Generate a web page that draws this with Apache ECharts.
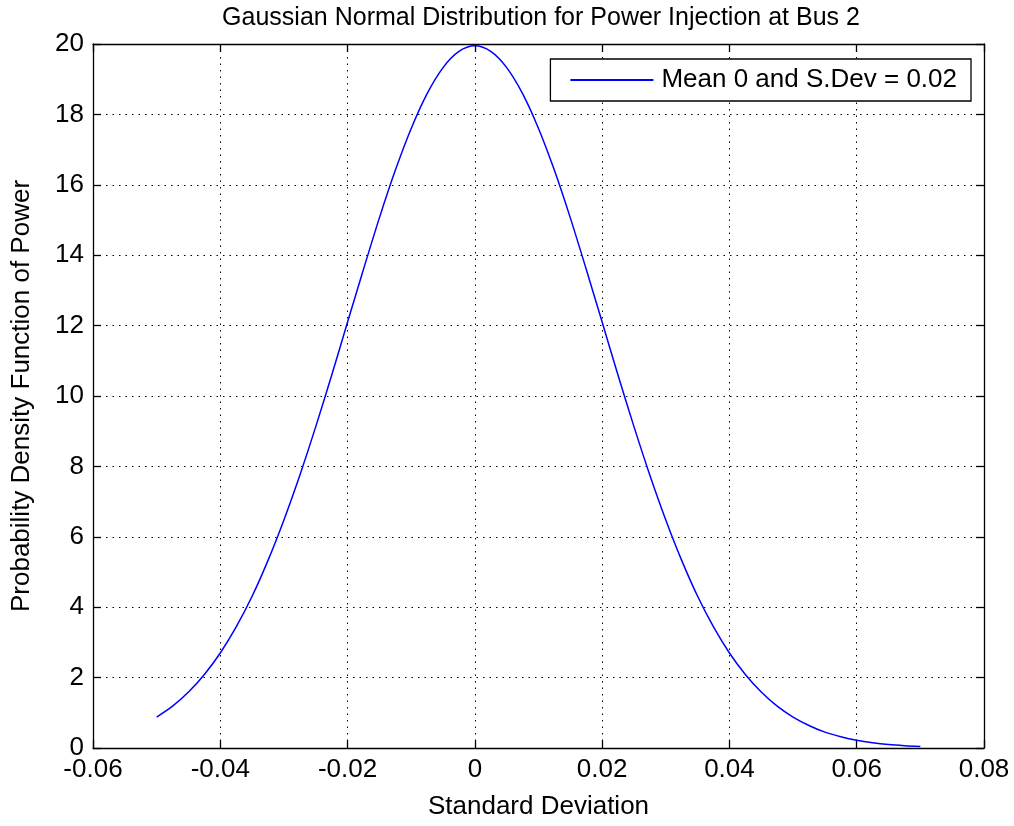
<!DOCTYPE html>
<html><head><meta charset="utf-8">
<script src="https://cdn.jsdelivr.net/npm/echarts@6/dist/echarts.min.js"></script>
<style>html,body{margin:0;padding:0;background:#fff}#c{width:1014px;height:826px}</style>
</head><body><div id="c"></div>
<script>
const xValues = [-0.05,-0.0475,-0.045,-0.0425,-0.04,-0.0375,-0.035,-0.0325,-0.03,-0.0275,-0.025,-0.0225,-0.02,-0.0175,-0.015,-0.0125,-0.01,-0.0075,-0.005,-0.0025,0,0.0025,0.005,0.0075,0.01,0.0125,0.015,0.0175,0.02,0.0225,0.025,0.0275,0.03,0.0325,0.035,0.0375,0.04,0.0425,0.045,0.0475,0.05,0.0525,0.055,0.0575,0.06,0.0625,0.065,0.0675,0.07];
const pdfValues = [0.88,1.19,1.59,2.09,2.70,3.44,4.31,5.33,6.48,7.75,9.13,10.59,12.10,13.60,15.06,16.41,17.60,18.59,19.33,19.79,19.95,19.79,19.33,18.59,17.60,16.41,15.06,13.60,12.10,10.59,9.13,7.75,6.48,5.33,4.31,3.44,2.70,2.09,1.59,1.19,0.88,0.64,0.45,0.32,0.22,0.15,0.10,0.067,0.044];
const seriesName = 'Mean 0 and S.Dev = 0.02';
const titleText = 'Gaussian Normal Distribution for Power Injection at Bus 2';
const xLabel = 'Standard Deviation';
const yLabel = 'Probability Density Function of Power';

const FONT = '"Liberation Sans",Arial,sans-serif';
const chart = echarts.init(document.getElementById('c'));
const dotted = {color:'#000', width:1, type:[1.5,5]};
const axisLine = {show:true, onZero:false, lineStyle:{color:'#000', width:1.3}};
const ticks = {show:true, inside:true, length:8, lineStyle:{color:'#000', width:1.3}};
chart.setOption({
  animation:false,
  backgroundColor:'#fff',
  title:{text:titleText, left:536, textAlign:'center', top:1, textStyle:{fontFamily:FONT, fontSize:25, fontWeight:'normal', color:'#000'}},
  grid:{left:93, right:30, top:44, bottom:78},
  legend:{show:true, right:43, top:59, orient:'vertical', backgroundColor:'#fff', borderColor:'#000', borderWidth:1.3, borderRadius:0,
    padding:[8,14,8,20], itemWidth:83, itemHeight:2, itemGap:6,
    textStyle:{fontFamily:FONT, fontSize:26, color:'#000', padding:[0,0,0,3]}, data:[{name:seriesName, icon:'rect'}]},
  xAxis:[{type:'value', min:-0.06, max:0.08, interval:0.02, position:'bottom',
    name:xLabel, nameLocation:'middle', nameGap:46, nameTextStyle:{fontFamily:FONT, fontSize:26, color:'#000'},
    axisLine:axisLine, axisTick:ticks, axisLabel:{fontFamily:FONT, fontSize:26, color:'#000', margin:9},
    splitLine:{show:true, lineStyle:dotted}},
    {type:'value', min:-0.06, max:0.08, interval:0.02, position:'top', axisLine:axisLine, axisTick:ticks, axisLabel:{show:false}, splitLine:{show:false}}],
  yAxis:[{type:'value', min:0, max:20, interval:2, position:'left',
    name:yLabel, nameLocation:'middle', nameGap:58, nameTextStyle:{fontFamily:FONT, fontSize:26, color:'#000'},
    axisLine:axisLine, axisTick:ticks, axisLabel:{fontFamily:FONT, fontSize:26, color:'#000', margin:9},
    splitLine:{show:true, lineStyle:dotted}},
    {type:'value', min:0, max:20, interval:2, position:'right', axisLine:axisLine, axisTick:ticks, axisLabel:{show:false}, splitLine:{show:false}}],
  series:[{name:seriesName, type:'line', data:xValues.map((x,i)=>[x,pdfValues[i]]), showSymbol:false, smooth:0.3,
    lineStyle:{color:'#0000ff', width:1.5}, itemStyle:{color:'#0000ff'}}]
});
</script></body></html>
